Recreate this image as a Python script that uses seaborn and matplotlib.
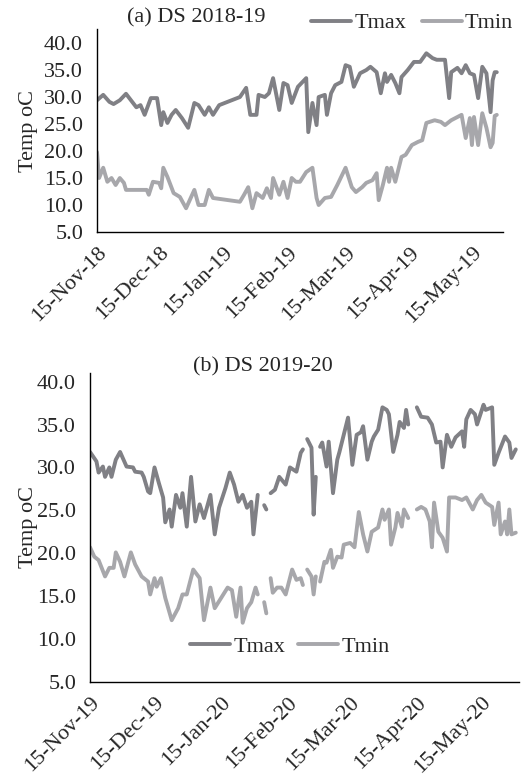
import numpy as np
import pandas as pd
import matplotlib
matplotlib.use('Agg')
import matplotlib.pyplot as plt
import matplotlib.dates as mdates
import seaborn as sns

# day offsets from 15-Nov and daily temperatures
# (nan marks missing days, which break the line)
tmax_a_days = [0, 3, 6, 8, 11, 14, 19, 21, 23, 26, 29, 31, 32, 34, 36, 38, 41, 44, 47, 49,
               52, 54, 56, 59, 69, 72, 74, 77, 78, 81, 83, 85, 88, 90, 92, 94, 97, 101, 102, 104,
               106, 107, 110, 111, 113, 115, 118, 120, 122, 124, 127, 130, 132, 135, 137, 139, 140, 142, 144, 146,
               147, 150, 153, 156, 159, 162, 164, 168, 170, 171, 174, 176, 178, 180, 182, 184, 186, 188, 190, 191,
               192, 193]
tmax_a = [29.4, 30.4, 29.1, 28.7, 29.4, 30.6, 28.1, 28.5, 26.7, 29.8, 29.8, 24.8, 27.2, 25.2, 26.7, 27.6, 26.1, 24.3, 28.9, 28.5,
          26.7, 28.1, 26.7, 28.5, 30.0, 31.7, 26.7, 26.7, 30.4, 30.0, 30.7, 33.5, 27.6, 32.6, 32.2, 28.9, 31.9, 33.5, 23.5, 28.9,
          24.8, 30.0, 30.4, 26.7, 30.7, 32.2, 32.8, 35.9, 35.6, 31.9, 34.4, 35.0, 35.6, 34.6, 30.7, 34.4, 32.8, 34.1, 32.6, 30.7,
          33.7, 35.0, 36.5, 36.5, 38.1, 37.2, 36.9, 36.9, 29.8, 34.6, 35.4, 34.4, 35.9, 34.4, 34.1, 29.8, 35.6, 34.4, 27.2, 33.1,
          34.6, 34.6]

tmin_a_days = [0, 1, 3, 5, 7, 9, 11, 13, 14, 24, 25, 27, 30, 31, 32, 34, 37, 40, 43, 47,
               49, 52, 54, 56, 69, 71, 73, 75, 77, 80, 82, 84, 85, 88, 90, 92, 94, 96, 98, 101,
               104, 106, 107, 110, 113, 116, 120, 123, 125, 128, 130, 133, 135, 136, 138, 140, 141, 142, 144, 147,
               149, 152, 155, 157, 159, 163, 166, 168, 171, 174, 176, 178, 180, 181, 182, 184, 186, 188, 190, 191,
               192, 193]
tmin_a = [19.8, 15.0, 16.9, 14.3, 15.0, 13.7, 15.0, 14.1, 12.8, 12.8, 11.9, 14.3, 14.1, 13.1, 16.9, 15.2, 12.2, 11.5, 9.4, 12.8,
          10.0, 10.0, 12.8, 11.3, 10.6, 11.9, 13.3, 9.4, 12.2, 11.3, 13.1, 11.3, 15.0, 11.9, 14.3, 11.3, 15.0, 14.3, 14.3, 16.1,
          16.9, 11.3, 10.0, 11.3, 11.5, 13.7, 16.9, 13.3, 12.4, 13.3, 14.1, 14.6, 15.9, 10.9, 13.7, 16.9, 14.3, 16.9, 14.3, 18.9,
          19.3, 21.1, 21.7, 22.0, 25.2, 25.7, 25.4, 24.8, 25.7, 26.3, 26.7, 22.4, 26.1, 21.1, 26.3, 21.1, 27.0, 24.3, 20.7, 21.5,
          26.5, 26.7]

nan = float('nan')
tmax_b_days = [0, 3, 4, 6, 7, 9, 10, 12, 14, 17, 20, 21, 24, 25, 27, 28, 30, 32, 34, 35,
               37, 38, 40, 42, 43, 45, 47, 49, 51, 53, 56, 58, 60, 63, 65, 67, 69, 71, 73, 75,
               76, 78, 79, 81, 82, 83, 84, 86, 88, 91, 93, 96, 98, 99, 100, 101, 103, 104, 105, 106,
               107, 108, 110, 111, 113, 115, 116, 118, 120, 122, 124, 126, 127, 129, 131, 132, 134, 136, 138, 139,
               141, 143, 144, 146, 147, 148, 150, 152, 154, 157, 159, 161, 163, 164, 166, 168, 170, 173, 174, 175,
               177, 179, 180, 183, 184, 187, 188, 190, 193, 195, 196, 198]
tmax_b = [31.8, 30.7, 29.4, 30.1, 28.9, 30.0, 28.9, 30.9, 31.8, 30.1, 30.0, 29.5, 29.4, 28.9, 27.2, 27.0, 30.0, 28.2, 26.5, 23.6,
          25.1, 23.1, 26.8, 25.3, 27.0, 23.1, 28.9, 23.7, 25.7, 24.1, 26.8, 22.2, 25.3, 27.6, 29.4, 28.0, 26.0, 26.8, 25.3, 26.0,
          22.2, 26.8, nan, 25.6, 25.1, nan, 27.0, 27.4, 28.9, 28.0, 30.0, 29.5, 31.7, 32.1, nan, 33.3, 32.3, 24.5, 28.9, nan,
          32.4, 32.9, 30.1, 33.0, 27.0, 30.9, 31.8, 33.8, 35.8, 30.3, 33.8, 34.1, 34.8, 30.9, 33.0, 33.6, 34.4, 37.0, 36.7, 36.2,
          31.8, 33.8, 35.3, 34.6, 36.7, 35.0, nan, 37.0, 35.9, 35.8, 35.0, 32.9, 33.0, 30.0, 33.8, 32.4, 33.5, 34.2, 32.4, 35.6,
          36.7, 36.2, 35.0, 37.3, 36.7, 37.0, 30.3, 31.7, 33.6, 32.9, 31.1, 32.1]

tmin_b_days = [0, 2, 4, 7, 9, 11, 12, 14, 16, 19, 21, 24, 27, 28, 30, 31, 33, 35, 38, 41,
               43, 45, 48, 51, 53, 56, 58, 61, 64, 66, 68, 70, 71, 73, 75, 77, 78, 79, 81, 82,
               83, 84, 85, 87, 89, 91, 94, 96, 98, 99, 100, 101, 103, 104, 105, 106, 107, 109, 110, 112,
               113, 115, 117, 118, 121, 123, 125, 127, 129, 131, 134, 136, 137, 139, 140, 142, 143, 145, 146, 148,
               150, 152, 154, 156, 158, 159, 160, 162, 164, 166, 167, 170, 173, 175, 178, 180, 182, 184, 187, 188,
               190, 191, 193, 194, 195, 196, 198]
tmin_b = [20.7, 19.6, 19.2, 17.3, 18.3, 18.3, 20.1, 19.0, 17.3, 20.1, 18.7, 17.3, 16.7, 15.2, 17.1, 16.1, 17.1, 14.8, 12.2, 13.6,
          15.2, 15.2, 18.1, 17.1, 12.2, 16.0, 13.6, 14.8, 16.0, 15.7, 12.6, 16.0, 11.9, 13.6, 14.3, 16.0, 15.2, nan, 14.3, 13.0,
          nan, 17.1, 15.4, 16.0, 16.0, 15.2, 18.1, 16.9, 17.1, 16.3, nan, 18.1, 17.3, 15.2, 17.3, nan, 16.7, 19.0, 18.9, 20.4,
          18.3, 19.6, 19.5, 21.0, 21.2, 20.7, 24.8, 22.2, 20.2, 22.5, 23.0, 25.1, 23.9, 25.1, 21.0, 23.0, 24.7, 23.1, 25.1, 24.1,
          nan, 25.1, 25.4, 25.1, 23.7, 20.7, 25.9, 22.5, 21.8, 20.2, 26.5, 26.5, 26.2, 26.5, 25.1, 26.2, 26.8, 25.9, 25.4, 23.3,
          25.9, 22.2, 23.7, 22.2, 25.1, 22.2, 22.4]

series_names = ['Tmax', 'Tmin']
colors = {'Tmax': '#808085', 'Tmin': '#a7a7ab'}
yticks = [5, 10, 15, 20, 25, 30, 35, 40]
FS = 16


def build_frame(start, series):
    rows = []
    for name, days, vals in series:
        seg = 0
        for d, v in zip(days, vals):
            if np.isnan(v):
                seg += 1
                continue
            rows.append({'date': pd.Timestamp(start) + pd.Timedelta(days=d),
                         'temp': v, 'series': name, 'seg': f'{name}{seg}'})
    return pd.DataFrame(rows)


def draw_panel(ax, df, start, span, ymax, ylab_x):
    sns.lineplot(data=df, x='date', y='temp', hue='series', hue_order=series_names,
                 units='seg', estimator=None, palette=colors, linewidth=2.8, ax=ax)
    t0 = pd.Timestamp(start)
    ax.set_xlim(t0, t0 + pd.Timedelta(days=span))
    ax.set_ylim(5, ymax)
    ax.set_yticks(yticks)
    ax.set_yticklabels([f'{v:.1f}' for v in yticks])
    ax.xaxis.set_major_locator(mdates.MonthLocator(bymonthday=15))
    ax.xaxis.set_major_formatter(mdates.DateFormatter('%d-%b-%y'))
    ax.tick_params(direction='out', length=5, width=1, color='black', labelsize=FS)
    ax.tick_params(axis='x', pad=3)
    ax.tick_params(axis='y', pad=5)
    for lab in ax.get_xticklabels():
        lab.set_rotation(45)
        lab.set_ha('right')
        lab.set_va('top')
        lab.set_rotation_mode('anchor')
    ax.set_xlabel('')
    ax.set_ylabel('Temp oC', fontsize=FS)
    ax.yaxis.set_label_coords(ylab_x, 0.5)
    for side in ['top', 'right']:
        ax.spines[side].set_visible(False)
    for side in ['left', 'bottom']:
        ax.spines[side].set_color('black')
        ax.spines[side].set_linewidth(1)
    handles, labels = ax.get_legend_handles_labels()
    ax.get_legend().remove()
    return handles, labels


def main():
    sns.set_style('white')
    plt.rcParams['font.family'] = ['Liberation Serif', 'DejaVu Serif']
    plt.rcParams['font.size'] = FS

    fig = plt.figure(figsize=(5.21, 7.78), dpi=100)
    ax1 = fig.add_axes([97 / 521, 1 - 232 / 778, 406 / 521, 203 / 778])
    ax2 = fig.add_axes([90 / 521, 1 - 682 / 778, 429 / 521, 309 / 778])

    df_a = build_frame('2018-11-15', [('Tmax', tmax_a_days, tmax_a), ('Tmin', tmin_a_days, tmin_a)])
    df_b = build_frame('2019-11-15', [('Tmax', tmax_b_days, tmax_b), ('Tmin', tmin_b_days, tmin_b)])

    h, l = draw_panel(ax1, df_a, '2018-11-15', 196, 42.6, -0.145)
    fig.legend(h, l, loc='center', bbox_to_anchor=(412 / 521, 1 - 23 / 778), ncol=2,
               frameon=False, fontsize=FS, handlelength=1.8, handletextpad=0.15,
               columnspacing=0.7, borderpad=0)
    fig.text(196 / 521, 1 - 18 / 778, '(a) DS 2018-19', ha='center', va='center', fontsize=FS)

    h, l = draw_panel(ax2, df_b, '2019-11-15', 199.5, 41, -0.121)
    fig.legend(h, l, loc='center', bbox_to_anchor=(290 / 521, 1 - 647 / 778), ncol=2,
               frameon=False, fontsize=FS, handlelength=1.8, handletextpad=0.15,
               columnspacing=0.6, borderpad=0)
    fig.text(263 / 521, 1 - 367 / 778, '(b) DS 2019-20', ha='center', va='center', fontsize=FS)

    fig.savefig('out.png', dpi=100)


if __name__ == "__main__":
    main()
